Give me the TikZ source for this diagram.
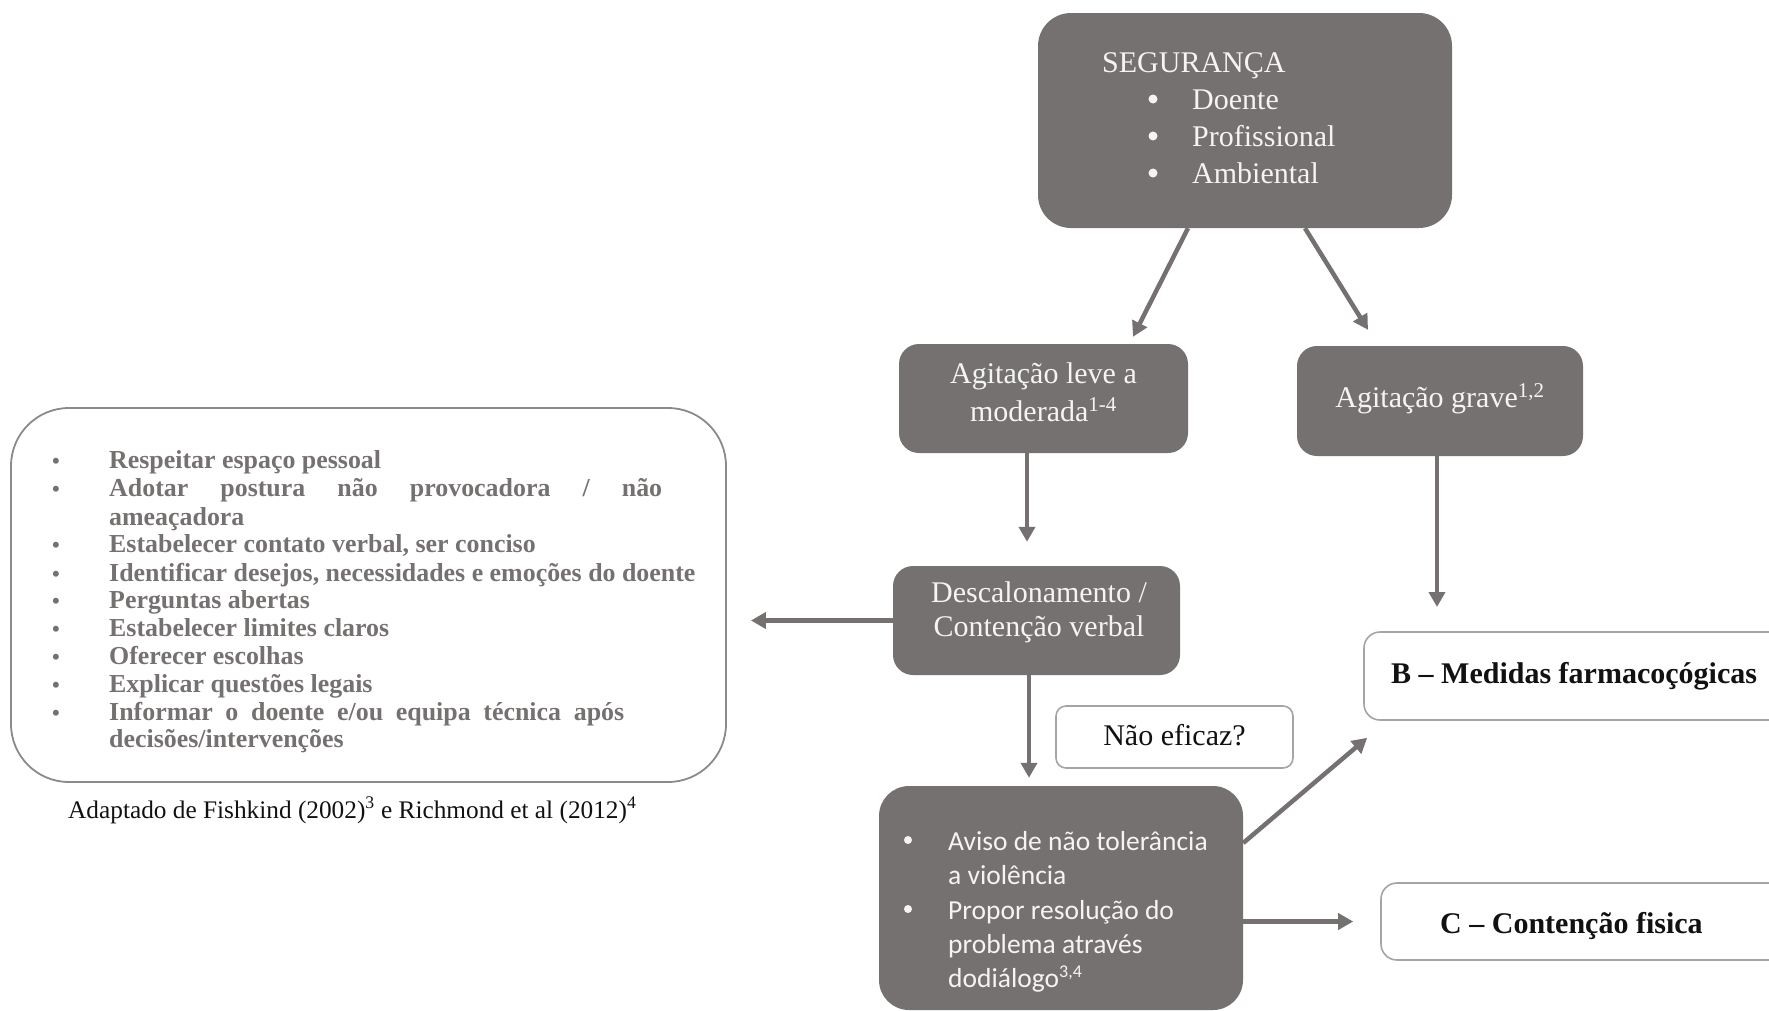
\documentclass[tikz,border=0pt]{standalone}
\usepackage{fontspec}
\setmainfont{Liberation Serif}
\newfontfamily\calibfont{Carlito}
\usetikzlibrary{arrows.meta,calc}
\definecolor{boxfill}{HTML}{767171}
\definecolor{boxtext}{HTML}{F4F4F4}
\definecolor{arrowgray}{HTML}{767171}
\definecolor{framegray}{HTML}{A5A5A5}
\definecolor{listgray}{HTML}{767171}
\definecolor{listframe}{HTML}{8A8A8A}
\definecolor{inkblack}{HTML}{111111}

\begin{document}
\begin{tikzpicture}[x=1pt,y=-1pt,
  darkbox/.style={rectangle, fill=boxfill, draw=none, rounded corners=#1, inner sep=0pt},
  darkbox/.default=22pt,
  whitebox/.style={rectangle, fill=white, draw=framegray, line width=1.6pt, rounded corners=#1, inner sep=0pt},
  whitebox/.default=14pt,
  serif30/.style={font=\fontsize{30}{36}\selectfont, inner sep=0pt},
  dtext/.style={serif30, text=boxtext},
  dot/.style={circle, fill=boxtext, draw=none, inner sep=0pt, minimum size=#1},
  dot/.default=9pt,
  btext/.style={font=\fontsize{30}{36}\bfseries\selectfont, inner sep=0pt, text=inkblack},
  listtext/.style={font=\fontsize{25.9}{28}\bfseries\selectfont, inner sep=0pt, text=listgray, anchor=base west},
  listbullet/.style={font=\fontsize{22}{28}\bfseries\selectfont, inner sep=0pt, text=listgray, anchor=base},
  sanstext/.style={font=\calibfont\fontsize{27.5}{34}\selectfont, inner sep=0pt, text=boxtext, anchor=base west},
  flow/.style={draw=arrowgray, line width=4.5pt, -{Triangle[length=15pt,width=16pt]}},
]
\useasboundingbox (0,0) rectangle (1769,1010);
\clip (0,0) rectangle (1769,1010);

% ---------- boxes ----------
\node[darkbox=33pt, minimum width=414pt, minimum height=215pt] (seg) at (1245,120.5) {};
\node[darkbox=20pt, minimum width=289pt, minimum height=109pt] (leve) at (1043.5,398.5) {};
\node[darkbox=20pt, minimum width=286pt, minimum height=110pt] (grave) at (1440,401) {};
\node[darkbox=20pt, minimum width=287pt, minimum height=109pt] (desc) at (1036.5,620.5) {};
\node[darkbox=30pt, minimum width=364pt, minimum height=224pt] (aviso) at (1061,898) {};
\node[whitebox=10pt, minimum width=237pt, minimum height=62pt] (naoef) at (1174.5,737) {};
\node[whitebox=16pt, minimum width=436pt, minimum height=88pt] (medB) at (1582,676) {};
\node[whitebox=16pt, minimum width=420pt, minimum height=77pt] (contC) at (1591,921.5) {};
\node[rectangle, draw=listframe, line width=1.8pt, rounded corners=58pt,
      minimum width=715pt, minimum height=374pt, inner sep=0pt] (list) at (368.5,595) {};

% ---------- SEGURANÇA ----------
\node[dtext, anchor=base west] (segT) at (1102,72) {SEGURANÇA};
\foreach \txt [count=\i] in {Doente,Profissional,Ambiental}{
  \node[dot] (segB\i) at (1153,{62+37*\i}) {};
  \node[dtext, anchor=base west] (segI\i) at (1192,{72+37*\i}) {\txt};
}

% ---------- agitation levels ----------
\node[dtext, anchor=base] (leveA) at (1043.5,383) {Agitação leve a};
\node[dtext, anchor=base] (leveB) at (1043.5,421) {moderada\textsuperscript{1-4}};
\node[dtext, anchor=base] (graveT) at (1440,407) {Agitação grave\textsuperscript{1,2}};

% ---------- de-escalation ----------
\node[dtext, anchor=base] (descA) at (1039,602) {Descalonamento /};
\node[dtext, anchor=base] (descB) at (1039,636) {Contenção verbal};
\node[serif30, text=inkblack, anchor=base] (naoT) at (1174.5,745) {Não eficaz?};

% ---------- warning box ----------
\node[dot=8pt] (avB1) at (908,840) {};
\node[sanstext] (av1) at (948,850) {Aviso de não tolerância};
\node[sanstext] (av2) at (948,884) {a violência};
\node[dot=8pt] (avB2) at (908,909) {};
\node[sanstext] (av3) at (948,919) {Propor resolução do};
\node[sanstext] (av4) at (948,953) {problema através};
\node[sanstext] (av5) at (948,987) {dodiálogo\textsuperscript{\fontsize{18}{20}\selectfont 3,4}};

% ---------- outcome boxes ----------
\node[btext, anchor=base west] (medBT) at (1391,683) {B – Medidas farmacoçógicas};
\node[btext, anchor=base west] (contCT) at (1440,933) {C – Contenção fisica};

% ---------- de-escalation techniques ----------
\foreach \y [count=\i] in {468.3,496.7,552.7,581,608.3,636.7,664.3,692.3,720}{
  \node[listbullet] (lb\i) at (56,\y) {•};
}
\node[listtext] (l1) at (109,468.3) {Respeitar espaço pessoal};
\node[listtext] (l2) at (109,496.7) {\makebox[553pt][s]{Adotar postura não provocadora / não}};
\node[listtext] (l3) at (109,525) {ameaçadora};
\node[listtext] (l4) at (109,552.7) {Estabelecer contato verbal, ser conciso};
\node[listtext] (l5) at (109,581) {Identificar desejos, necessidades e emoções do doente};
\node[listtext] (l6) at (109,608.3) {Perguntas abertas};
\node[listtext] (l7) at (109,636.7) {Estabelecer limites claros};
\node[listtext] (l8) at (109,664.3) {Oferecer escolhas};
\node[listtext] (l9) at (109,692.3) {Explicar questões legais};
\node[listtext] (l10) at (109,720) {\makebox[515pt][s]{Informar o doente e/ou equipa técnica após}};
\node[listtext] (l11) at (109,747.7) {decisões/intervenções};

\node[font=\fontsize{25.3}{28}\selectfont, inner sep=0pt, text=inkblack, anchor=base west] (caption)
  at (68,818) {Adaptado de Fishkind (2002)\textsuperscript{3} e Richmond et al (2012)\textsuperscript{4}};

% ---------- connectors ----------
\coordinate (bIn) at (1437,607);
\coordinate (descOut) at ($(desc.south)+(-7.5,0)$);
\draw[flow] ($(seg.south)+(-57,0)$) -- ($(leve.north)+(89.5,-7)$);
\draw[flow] ($(seg.south)+(60,0)$) -- ($(grave.north)+(-72,-16)$);
\draw[flow] ($(leve.south)+(-16.5,0)$) -- ($(desc.north)+(-9.5,-24)$);
\draw[flow] ($(grave.south)+(-3,0)$) -- (bIn);
\draw[flow, shorten >=24pt] (desc.west) -- (desc.west -| list.east);
\draw[flow, shorten >=8pt] (descOut) -- (descOut |- aviso.north);
\draw[flow] ($(aviso.east)+(0,-55)$) -- ($(medB.south west)+(4,17)$);
\draw[flow, shorten >=27pt] (aviso.east |- contC.west) -- (contC.west);
\end{tikzpicture}
\end{document}
